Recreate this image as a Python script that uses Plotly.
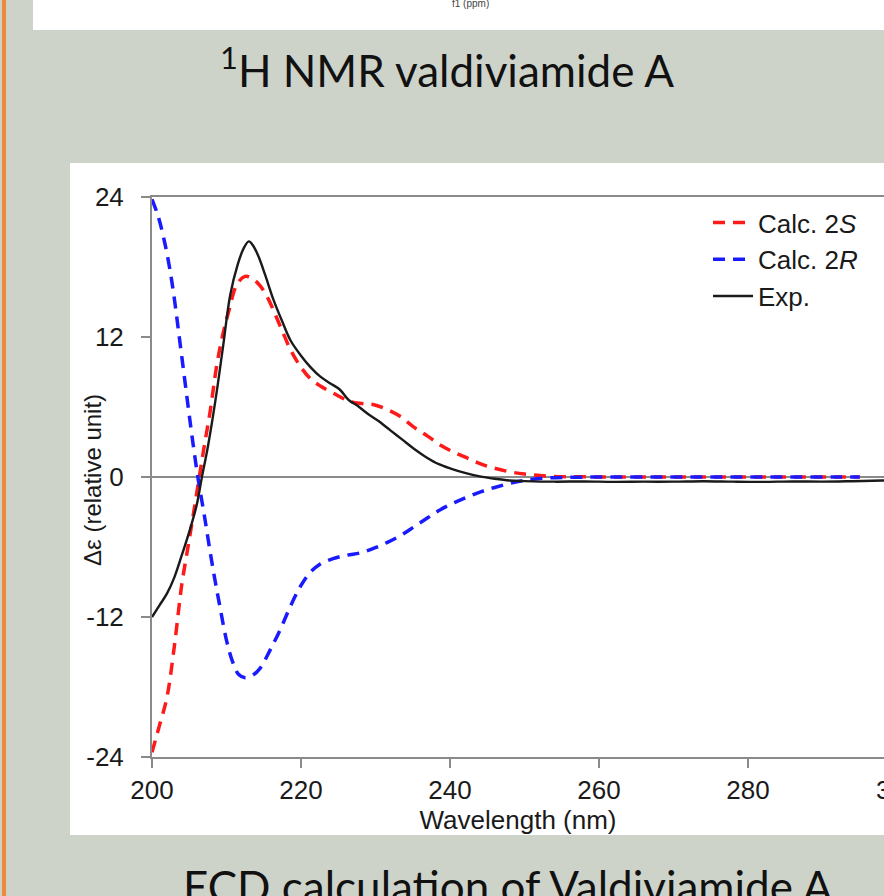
import plotly.graph_objects as go

# ---------------- data ----------------
exp_x = [200, 201, 202, 203, 204, 205, 206, 206.7, 207.5, 208.5, 209.5, 210.5, 211.5, 212.3, 213.0,
         213.6, 214.3, 215.2, 216.3, 217.5, 218.6, 220, 221.3, 222.6, 224.0, 225.2, 226.4, 227.6,
         229.0, 230.4, 232.0, 233.6, 235.2, 236.8, 238.5, 240.2, 242.0, 244.0, 246.0, 248.0, 250,
         254, 258, 262, 266, 270, 274, 278, 282, 286, 290, 294, 298, 300]
exp_y = [-12.0, -11.0, -10.0, -8.6, -6.7, -4.7, -2.4, 0.0, 2.6, 6.5, 11.0, 15.6, 18.2, 19.6, 20.2,
         19.8, 18.9, 17.3, 15.2, 13.3, 11.7, 10.4, 9.4, 8.6, 8.0, 7.5, 6.6, 6.1,
         5.4, 4.8, 4.0, 3.2, 2.4, 1.7, 1.1, 0.7, 0.35, 0.05, -0.15, -0.3, -0.35,
         -0.4, -0.38, -0.42, -0.4, -0.4, -0.36, -0.4, -0.42, -0.38, -0.4, -0.36, -0.3, -0.3]

s_x = [200, 201, 202, 203, 204, 204.7, 205.4, 206.2, 207, 207.8, 208.7, 209.5, 210.3, 211.4, 212.5,
       213.5, 214.5, 215.5, 216.5, 217.5, 218.6, 220, 221.3, 222.6, 224.3, 226.5, 228.2, 229.8,
       231.5, 233.3, 235.1, 237, 238.8, 240.6, 242.4, 244.2, 246, 248, 250, 253, 257, 262, 268,
       274, 280, 286, 292, 295]
s_y = [-23.6, -21.3, -18.9, -14.5, -9.2, -6.5, -3.8, -0.6, 2.6, 5.6, 9.6, 12.2, 14.2, 16.5, 17.2,
       17.0, 16.4, 15.4, 14.0, 12.5, 10.9, 9.4, 8.4, 7.8, 7.2, 6.5, 6.3, 6.2,
       5.8, 5.2, 4.3, 3.5, 2.7, 2.1, 1.6, 1.1, 0.75, 0.45, 0.25, 0.08, 0.02, 0.0, 0.0,
       0.0, 0.0, 0.0, 0.0, 0.0]

r_x = [200, 200.8, 201.6, 202.4, 203.1, 203.7, 204.3, 204.9, 205.5, 206.2, 207, 207.8, 208.5, 209.2,
       210, 210.8, 211.6, 212.5, 213.5, 214.5, 215.8, 217.2, 218.5, 219.9, 221.2, 222.5, 224.3,
       226.2, 228, 229.8, 231.6, 233.4, 235.1, 237, 238.7, 240.6, 242.4, 244.2, 246, 248, 250,
       253, 257, 262, 268, 274, 280, 286, 292, 295]
r_y = [23.8, 22.4, 20.4, 17.8, 14.8, 11.8, 8.8, 5.8, 2.9, -0.2, -3.2, -6.4, -9.0, -11.4,
       -14.0, -15.8, -16.9, -17.2, -17.0, -16.4, -14.9, -13.1, -11.2, -9.4, -8.2, -7.5, -7.0,
       -6.7, -6.5, -6.1, -5.6, -5.0, -4.3, -3.5, -2.8, -2.2, -1.7, -1.25, -0.9, -0.55, -0.3,
       -0.08, -0.02, 0.0, 0.0, 0.0, 0.0, 0.0, 0.0, 0.0]

x_ticks = [200, 220, 240, 260, 280]
y_ticks = [-24, -12, 0, 12, 24]
y_tick_text = ["-24", "-12", "0", "12", "24"]
legend_names = ["Calc. 2<i>S</i>", "Calc. 2<i>R</i>", "Exp."]

# ---------------- layout helpers ----------------
W, H = 884, 896
ML, MR, MT, MB = 152, 0, 197, 139
PW, PH = W - ML - MR, H - MT - MB
PX_PER_NM = 149 / 20.0


def px(xp):
    return (xp - ML) / PW


def py(yp):
    return (H - MB - yp) / PH


FONT = "Liberation Sans, Arial, sans-serif"
AX = "#8a8a8a"
TXT = "#1a1a1a"

fig = go.Figure()
fig.add_trace(go.Scatter(x=s_x, y=s_y, mode="lines", name=legend_names[0], legendgroup="a",
                         line=dict(color="#ff1a1a", width=3.5, dash="12px,8px", shape="spline")))
fig.add_trace(go.Scatter(x=r_x, y=r_y, mode="lines", name=legend_names[1], legendgroup="b",
                         line=dict(color="#1a1aff", width=3.5, dash="12px,8px", shape="spline")))
fig.add_trace(go.Scatter(x=exp_x, y=exp_y, mode="lines", name=legend_names[2], legendgroup="c",
                         line=dict(color=TXT, width=2.4, shape="spline")))

shapes = [
    dict(type="rect", xref="paper", yref="paper", x0=px(2), x1=px(6), y0=py(H), y1=py(0),
         fillcolor="#ee8a3c", line_width=0, layer="below"),
    dict(type="rect", xref="paper", yref="paper", x0=px(33), x1=px(W), y0=py(30), y1=py(0),
         fillcolor="white", line_width=0, layer="below"),
    dict(type="rect", xref="paper", yref="paper", x0=px(70), x1=px(W), y0=py(835), y1=py(163),
         fillcolor="white", line_width=0, layer="below"),
]

annotations = [
    dict(text="<sup>1</sup>H NMR valdiviamide A", xref="paper", yref="paper", x=px(447), y=py(37),
         xanchor="center", yanchor="top", showarrow=False,
         font=dict(family="Lato, Carlito, sans-serif", size=44, color="#111")),
    dict(text="ECD calculation of Valdiviamide A", xref="paper", yref="paper", x=px(508), y=py(914),
         xanchor="center", yanchor="bottom", showarrow=False,
         font=dict(family="Lato, Carlito, sans-serif", size=44, color="#111")),
    dict(text="f1 (ppm)", xref="paper", yref="paper", x=px(470), y=py(-4),
         xanchor="center", yanchor="top", showarrow=False,
         font=dict(family=FONT, size=10, color="#444")),
    dict(text="300", xref="paper", yref="paper", x=px(ML + 100 * PX_PER_NM), y=py(790),
         xanchor="center", yanchor="middle", showarrow=False,
         font=dict(family=FONT, size=26, color=TXT)),
    dict(text="Δε (relative unit)", xref="paper", yref="paper", x=px(92), y=py(480),
         xanchor="center", yanchor="middle", textangle=-90, showarrow=False,
         font=dict(family=FONT, size=24, color=TXT)),
]

fig.update_layout(
    width=W, height=H, autosize=False,
    margin=dict(l=ML, r=MR, t=MT, b=MB, pad=0),
    paper_bgcolor="#ced3ca", plot_bgcolor="white",
    font=dict(family=FONT, size=26, color=TXT),
    shapes=shapes, annotations=annotations,
    showlegend=True,
    legend=dict(x=px(708), y=py(199), xanchor="left", yanchor="top", bgcolor="rgba(0,0,0,0)",
                font=dict(family=FONT, size=26, color=TXT), tracegroupgap=0,
                itemwidth=40),
    xaxis=dict(range=[200, 200 + PW / PX_PER_NM], tickvals=x_ticks, ticks="outside", ticklen=9,
               tickcolor=AX, tickwidth=1.5, showline=True, linecolor=AX, linewidth=2, mirror=True,
               showgrid=False, zeroline=False, ticklabelstandoff=0,
               title=dict(text="Wavelength (nm)", font=dict(size=26), standoff=4)),
    yaxis=dict(range=[-24, 24], tickvals=y_ticks, ticktext=y_tick_text, ticks="outside", ticklen=9,
               tickcolor=AX, tickwidth=1.5, showline=True, linecolor=AX, linewidth=2,
               showgrid=False, zeroline=True, zerolinecolor=AX, zerolinewidth=2,
               ticklabelstandoff=12),
)

fig.write_html("out.html")
